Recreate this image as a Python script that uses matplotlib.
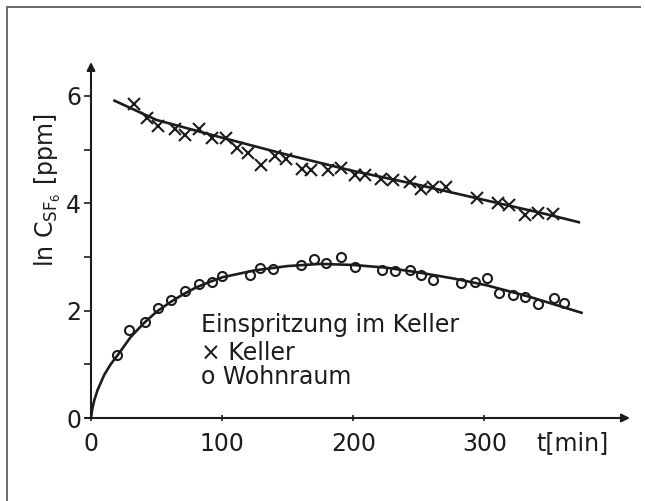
import matplotlib
matplotlib.use('Agg')
import matplotlib.pyplot as plt
from matplotlib.lines import Line2D

plt.rcParams['font.family'] = ['DejaVu Sans']
plt.rcParams['mathtext.default'] = 'regular'

# Keller (cellar) measurements, ln C in ppm
keller_t = [33, 43, 51, 64, 72, 82, 92, 103, 111, 120, 130, 140, 149, 161, 168,
            181, 191, 201, 209, 221, 230, 243, 252, 261, 271, 294, 310, 319, 331, 341, 352]
keller_v = [5.84, 5.59, 5.44, 5.38, 5.27, 5.39, 5.21, 5.21, 5.02, 4.93, 4.72, 4.88, 4.82, 4.64, 4.62,
            4.62, 4.65, 4.53, 4.53, 4.46, 4.43, 4.40, 4.26, 4.31, 4.31, 4.09, 4.00, 3.97, 3.78, 3.81, 3.80]

# Wohnraum (living room) measurements
wohn_t = [20, 29, 41, 51, 61, 72, 82, 92, 100, 121, 129, 139, 160, 170,
          179, 191, 201, 222, 232, 243, 252, 261, 282, 293, 302, 311, 322, 331, 341, 353, 361]
wohn_v = [1.17, 1.64, 1.79, 2.05, 2.20, 2.36, 2.50, 2.53, 2.64, 2.67, 2.80, 2.78, 2.85, 2.97,
          2.88, 2.99, 2.81, 2.76, 2.73, 2.76, 2.66, 2.57, 2.51, 2.54, 2.60, 2.32, 2.30, 2.25, 2.12, 2.24, 2.14]

# fitted curves
keller_fit_t = [17, 50, 100, 150, 200, 250, 300, 350, 373]
keller_fit_v = [5.92, 5.55, 5.22, 4.90, 4.60, 4.34, 4.06, 3.78, 3.64]
wohn_fit_t = [0, 1, 2.5, 5, 10, 15, 20, 30, 40, 50, 60, 70, 80, 90, 100, 125, 150, 175,
              200, 225, 250, 276, 302, 334, 374]
wohn_fit_v = [0, 0.17, 0.33, 0.52, 0.80, 1.00, 1.16, 1.50, 1.76, 1.98, 2.15, 2.30, 2.43, 2.53,
              2.62, 2.75, 2.83, 2.87, 2.85, 2.80, 2.71, 2.60, 2.47, 2.26, 1.96]

ink = '#1c1c1c'

fig = plt.figure(figsize=(6.45, 5.01), dpi=100)
ax = fig.add_axes([91 / 645, 83 / 501, 539 / 645, 356 / 501])
ax.set_xlim(0, 411)
ax.set_ylim(0, 6.63)

ax.plot(keller_fit_t, keller_fit_v, color=ink, lw=1.9, solid_capstyle='butt')
ax.plot(wohn_fit_t, wohn_fit_v, color=ink, lw=1.9)
ax.plot(keller_t, keller_v, ls='none', marker='x', ms=9, mew=1.5, color=ink)
ax.plot(wohn_t, wohn_v, ls='none', marker='o', ms=6.5, mew=1.5, mfc='none', mec=ink)

for s in ax.spines.values():
    s.set_visible(False)
ax.annotate('', xy=(0, 1.0), xytext=(0, 0), xycoords='axes fraction',
            arrowprops=dict(arrowstyle='-|>', color=ink, lw=1.5, mutation_scale=12, shrinkA=0, shrinkB=0))
ax.annotate('', xy=(1.0, 0), xytext=(-0.01, 0), xycoords='axes fraction',
            arrowprops=dict(arrowstyle='-|>', color=ink, lw=1.5, mutation_scale=12, shrinkA=0, shrinkB=0))

ax.set_xticks([0, 100, 200, 300])
ax.set_yticks([0, 2, 4, 6])
ax.set_yticks([1, 3, 5], minor=True)
ax.tick_params(axis='y', which='both', direction='out', length=5, width=1.2, color=ink,
               labelsize=17, pad=2, labelcolor=ink)
ax.tick_params(axis='x', direction='inout', length=4, width=1.2, color=ink,
               labelsize=17, pad=8, labelcolor=ink)

ax.set_ylabel(r'ln C$_{SF_6}$ [ppm]', fontsize=17, color=ink)
ax.yaxis.set_label_coords(-0.052, 0.64)
ax.text(367, -0.47, 't[min]', fontsize=17, color=ink, ha='center', va='center')

ax.text(84, 1.73, 'Einspritzung im Keller', fontsize=17, color=ink, va='center')
ax.text(84, 1.21, '× Keller', fontsize=17, color=ink, va='center')
ax.text(84, 0.76, 'o Wohnraum', fontsize=17, color=ink, va='center')

# scanned page frame
fig.add_artist(Line2D([7 / 645, 640 / 645], [1 - 7 / 501, 1 - 7 / 501], color='#6a6a6a', lw=1.4))
fig.add_artist(Line2D([7 / 645, 7 / 645], [1 - 7 / 501, 0], color='#6a6a6a', lw=1.4))

fig.savefig('out.png', dpi=100)
